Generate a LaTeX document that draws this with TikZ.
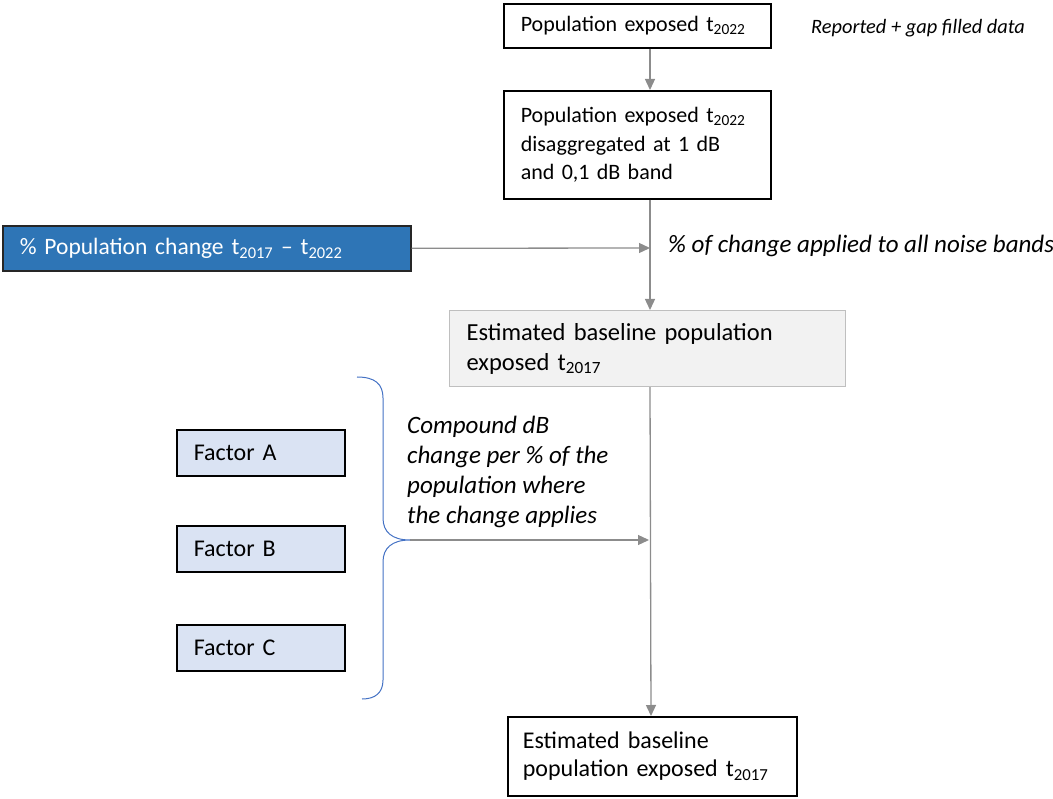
\documentclass[tikz,border=0pt]{standalone}
\usepackage{fontspec}
\setmainfont{Carlito}
\usetikzlibrary{arrows.meta}
\definecolor{arrowgray}{HTML}{8C8C8C}
\definecolor{bluefill}{HTML}{2E75B6}
\definecolor{factorfill}{HTML}{DAE3F3}
\definecolor{grayfill}{HTML}{F2F2F2}
\definecolor{grayborder}{HTML}{BFBFBF}
\definecolor{bracecol}{HTML}{4472C4}
\newcommand{\sbs}[1]{\textsubscript{#1}}
\tikzset{
  basebox/.style={draw=black, line width=1.6pt, anchor=north west, inner xsep=17pt, inner ysep=0pt, align=left,
    font=\fontsize{22}{28.5}\selectfont},
  bluebox/.style={basebox, fill=bluefill, text=white, draw=black!85, font=\fontsize{23.5}{28}\selectfont},
  factorbox/.style={basebox, fill=factorfill, font=\fontsize{24}{28}\selectfont},
  graybox/.style={basebox, fill=grayfill, draw=grayborder, line width=1.2pt, font=\fontsize{24.5}{30}\selectfont},
  finalbox/.style={basebox, inner xsep=15pt, font=\fontsize{24}{28}\selectfont},
  flow/.style={draw=arrowgray, line width=1.3pt, -{Triangle[length=11pt,width=10pt]}},
  note/.style={font=\fontsize{25}{30}\selectfont\itshape, align=left, inner sep=0pt},
  smallnote/.style={font=\fontsize{20.4}{22}\selectfont\itshape, inner sep=0pt},
  brace/.style={draw=bracecol, line width=1pt}
}
\begin{document}
\begin{tikzpicture}[x=1pt,y=-1pt]
\useasboundingbox (0,0) rectangle (1053,799);
% boxes
\node[basebox, text width=233pt, minimum height=44pt] (b1) at (503,3) {Population exposed t\sbs{2022}};
\node[basebox, text width=233pt, minimum height=108pt] (b2) at (503,90) {Population exposed t\sbs{2022}\\disaggregated at 1 dB\\and 0,1 dB band};
\node[bluebox, text width=374pt, minimum height=45pt] (pc) at (2,225) {\% Population change t\sbs{2017} -- t\sbs{2022}};
\node[graybox, text width=362pt, minimum height=76pt] (est) at (449,310) {Estimated baseline population\\exposed t\sbs{2017}};
\node[finalbox, text width=259pt, minimum height=79pt] (fin) at (507,716) {Estimated baseline\\population exposed t\sbs{2017}};
\node[factorbox, text width=134pt, minimum height=46pt] (fa) at (176,429) {Factor A};
\node[factorbox, text width=134pt, minimum height=46pt] (fb) at (176,525) {Factor B};
\node[factorbox, text width=134pt, minimum height=46pt] (fc) at (176,624) {Factor C};
% notes
\node[smallnote, anchor=west] (rep) at (811,28) {Reported + gap filled data};
\node[note, anchor=west] (pct) at (668,246) {\% of change applied to all noise bands};
\node[note, anchor=north west] (cmp) at (407,416) {Compound dB\\change per \% of the\\population where\\the change applies};
% joins
\coordinate (j1) at (650,248);
\coordinate (j2) at (649,540);
\coordinate (tip) at (410,540);
% connectors
\draw[flow] (b1.south -| 650,0) -- (b2.north -| 650,0);
\draw[draw=arrowgray, line width=1.3pt] (b2.south -| 650,0) -- (j1);
\draw[flow] (j1) -- (est.north -| 650,0);
\draw[flow] (pc.east) -- (j1);
\draw[flow] (est.south -| 650,0) -- (fin.north -| 651,0);
\draw[flow] (tip) -- (j2);
% brace
\draw[brace] (357,377) .. controls (375,377) and (383,384) .. (383,398) -- (383,518)
  .. controls (383,532) and (392,540) .. (tip)
  .. controls (392,540) and (383,548) .. (383,562) -- (383,680)
  .. controls (383,693) and (375,699) .. (362,699);
\end{tikzpicture}
\end{document}
